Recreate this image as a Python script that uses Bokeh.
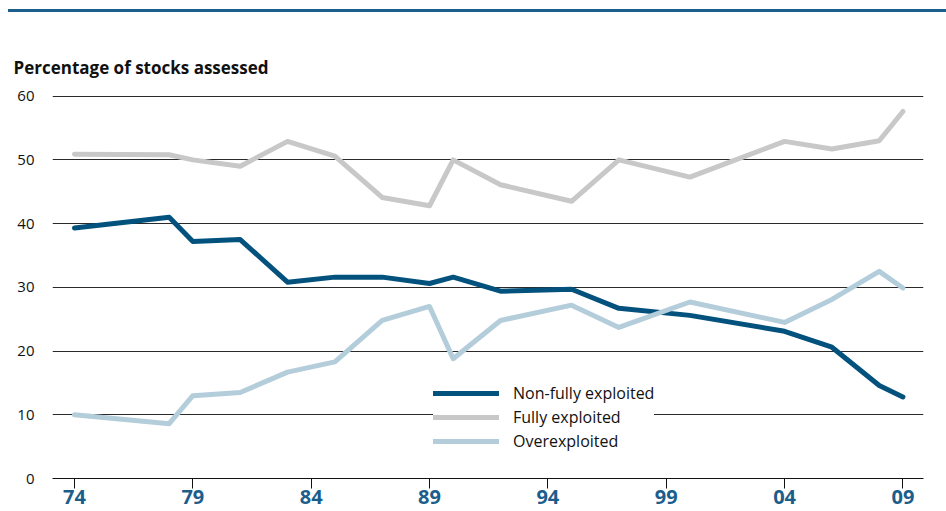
from bokeh.plotting import figure
from bokeh.models import Range1d, FixedTicker, Legend, LegendItem, Div
from bokeh.layouts import column
from bokeh.embed import file_html
from bokeh.resources import INLINE

# ---- data ----
years = [1974, 1978, 1979, 1981, 1983, 1985, 1987, 1989, 1990, 1992,
         1995, 1997, 2000, 2004, 2006, 2008, 2009]
non_fully = [39.3, 41.0, 37.2, 37.5, 30.8, 31.6, 31.6, 30.6, 31.6, 29.4,
             29.7, 26.7, 25.6, 23.1, 20.6, 14.6, 12.8]
fully = [50.9, 50.8, 50.0, 49.0, 52.9, 50.6, 44.1, 42.8, 50.0, 46.1,
         43.5, 50.0, 47.3, 52.9, 51.7, 53.0, 57.6]
over = [10.0, 8.6, 13.0, 13.5, 16.7, 18.3, 24.8, 27.0, 18.8, 24.8,
        27.2, 23.7, 27.7, 24.5, 28.1, 32.5, 29.9]
series_names = ["Non-fully exploited", "Fully exploited", "Overexploited"]
series_colors = ["#03527e", "#c8c8c8", "#b4cddb"]
tick_years = [1974, 1979, 1984, 1989, 1994, 1999, 2004, 2009]
tick_labels = ["74", "79", "84", "89", "94", "99", "04", "09"]
y_ticks = [0, 10, 20, 30, 40, 50, 60]

FONT = "Open Sans"

# thin rule across the top of the page
top_rule = Div(text="", width=938, height=3, margin=(9, 0, 0, 8),
               styles={"background-color": "#1b5d8b", "overflow": "hidden"})

p = figure(width=946, height=499, output_backend="svg", toolbar_location=None,
           x_range=Range1d(1973.07, 2009.87), y_range=Range1d(0, 60.26),
           min_border_left=52, min_border_right=23, min_border_top=82,
           min_border_bottom=33,
           title="Percentage of stocks assessed")
p.outline_line_color = None
p.background_fill_color = "white"
p.border_fill_color = "white"

p.title.text_font = FONT
p.title.text_font_size = "17px"
p.title.text_font_style = "bold"
p.title.text_color = "#111111"
p.title.align = "left"
p.title.offset = -39
p.title.standoff = 32

# grid
p.xgrid.grid_line_color = None
p.ygrid.grid_line_color = "#2a2a2a"
p.ygrid.grid_line_width = 1
p.ygrid.ticker = FixedTicker(ticks=y_ticks)

# y axis
p.yaxis.ticker = FixedTicker(ticks=y_ticks)
p.yaxis.axis_line_color = None
p.yaxis.major_tick_line_color = None
p.yaxis.minor_tick_line_color = None
p.yaxis.major_tick_out = 0
p.yaxis.major_tick_in = 0
p.yaxis.major_label_standoff = 18
p.yaxis.major_label_text_font = FONT
p.yaxis.major_label_text_font_size = "15px"
p.yaxis.major_label_text_color = "#111111"

# x axis
p.xaxis.ticker = FixedTicker(ticks=tick_years)
p.xaxis.major_label_overrides = {t: l for t, l in zip(tick_years, tick_labels)}
p.xaxis.axis_line_color = "#111111"
p.xaxis.axis_line_width = 1
p.xaxis.major_tick_line_color = "#111111"
p.xaxis.major_tick_out = 10
p.xaxis.major_tick_in = 0
p.xaxis.minor_tick_line_color = None
p.xaxis.major_label_standoff = 1
p.xaxis.major_label_text_font = FONT
p.xaxis.major_label_text_font_size = "20px"
p.xaxis.major_label_text_font_style = "bold"
p.xaxis.major_label_text_color = "#1b5d8b"

items = []
for name, vals, col in zip(series_names, [non_fully, fully, over], series_colors):
    r = p.line(years, vals, line_color=col, line_width=5,
               line_cap="round", line_join="round")
    items.append(LegendItem(label=name, renderers=[r]))

legend = Legend(items=items, location=(381, 26))
legend.glyph_width = 66
legend.glyph_height = 18
legend.label_height = 18
legend.spacing = 2
legend.padding = 12
legend.margin = 0
legend.label_standoff = 14
legend.label_text_font = FONT
legend.label_text_font_size = "16px"
legend.label_text_color = "#111111"
legend.background_fill_color = "white"
legend.background_fill_alpha = 1.0
legend.border_line_color = None
p.add_layout(legend)

layout = column(top_rule, p, spacing=0)
open("out.html", "w").write(file_html(layout, INLINE))
